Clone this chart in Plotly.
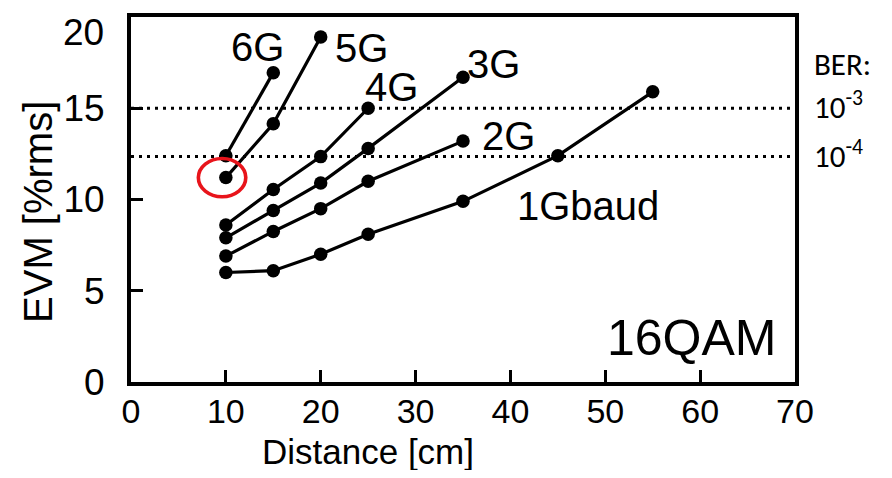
import plotly.graph_objects as go

# ---- data ----
dist_1g = [10, 15, 20, 25, 35, 45, 55]
evm_1g = [6.0, 6.1, 7.0, 8.1, 9.9, 12.4, 15.9]
dist_2g = [10, 15, 20, 25, 35]
evm_2g = [6.9, 8.25, 9.5, 11.0, 13.2]
dist_3g = [10, 15, 20, 25, 35]
evm_3g = [7.9, 9.4, 10.9, 12.8, 16.7]
dist_4g = [10, 15, 20, 25]
evm_4g = [8.6, 10.55, 12.35, 15.0]
dist_5g = [10, 15, 20]
evm_5g = [11.2, 14.15, 18.9]
dist_6g = [10, 15]
evm_6g = [12.4, 16.95]

x_ticks = [0, 10, 20, 30, 40, 50, 60, 70]
y_ticks = [0, 5, 10, 15, 20]

ber_levels = [15.0, 12.35]
ber_labels = ["10<sup>-3</sup>", "10<sup>-4</sup>"]

series = [
    ("1Gbaud", dist_1g, evm_1g),
    ("2G", dist_2g, evm_2g),
    ("3G", dist_3g, evm_3g),
    ("4G", dist_4g, evm_4g),
    ("5G", dist_5g, evm_5g),
    ("6G", dist_6g, evm_6g),
]
label_pos = {
    "6G": (13.3, 18.35),
    "5G": (24.25, 18.3),
    "4G": (27.5, 16.15),
    "3G": (38.2, 17.45),
    "2G": (39.8, 13.5),
    "1Gbaud": (48.2, 9.62),
}

ARIAL = "Arial, Liberation Sans, sans-serif"
CAL = "Carlito, Lato, Open Sans, sans-serif"

fig = go.Figure()
for name, xs, ys in series:
    fig.add_trace(go.Scatter(
        x=xs, y=ys, mode="lines+markers", name=name,
        line=dict(color="black", width=3.2),
        marker=dict(color="black", size=13.5),
        showlegend=False,
    ))

# BER threshold lines
for lvl in ber_levels:
    fig.add_shape(type="line", xref="x", yref="y", x0=0, x1=70, y0=lvl, y1=lvl,
                  line=dict(color="black", width=3, dash="3px,5px"), layer="below")

# red circle around the 5G/10cm point
fig.add_shape(type="circle", xref="x", yref="y", x0=7.1, x1=12.1, y0=10.15, y1=12.25,
              line=dict(color="#e8141b", width=3.6))

annotations = []
for name, (lx, ly) in label_pos.items():
    annotations.append(dict(x=lx, y=ly, xref="x", yref="y", text=name, showarrow=False,
                            xanchor="center", yanchor="middle",
                            font=dict(family=ARIAL, size=40, color="black")))
annotations.append(dict(x=59.1, y=2.42, xref="x", yref="y", text="16QAM", showarrow=False,
                        xanchor="center", yanchor="middle",
                        font=dict(family=ARIAL, size=50, color="black")))
annotations.append(dict(x=1.0256, y=0.854, xref="paper", yref="paper", text="BER:",
                        showarrow=False, xanchor="left", yanchor="middle", yshift=6,
                        font=dict(family=CAL, size=31, color="black")))
for lvl, lab in zip(ber_levels, ber_labels):
    annotations.append(dict(x=1.0256, y=lvl, xref="paper", yref="y", text=lab,
                            showarrow=False, xanchor="left", yanchor="middle", yshift=3,
                            font=dict(family=CAL, size=31, color="black")))
annotations.append(dict(x=0.357, y=-0.19, xref="paper", yref="paper", text="Distance [cm]",
                        showarrow=False, xanchor="center", yanchor="middle",
                        font=dict(family=ARIAL, size=35, color="black")))
annotations.append(dict(x=-0.14, y=0.466, xref="paper", yref="paper", text="EVM [%rms]",
                        showarrow=False, xanchor="center", yanchor="middle", textangle=-90,
                        font=dict(family=ARIAL, size=40, color="black")))
# top y tick label (pushed down inside the page like the reference)
annotations.append(dict(x=-0.037, y=0.9566, xref="paper", yref="paper", text=str(y_ticks[-1]),
                        showarrow=False, xanchor="right", yanchor="middle",
                        font=dict(family=ARIAL, size=37, color="black")))

fig.update_layout(
    width=876, height=462,
    margin=dict(l=123, r=89, t=5, b=88),
    paper_bgcolor="white", plot_bgcolor="white",
    annotations=annotations,
    xaxis=dict(range=[0, 70], tickmode="array", tickvals=x_ticks,
               showgrid=False, zeroline=False, showline=True, linecolor="black", linewidth=4,
               mirror=True, ticks="inside", ticklen=12, tickwidth=3, tickcolor="black",
               ticklabelstandoff=-4,
               tickfont=dict(family=ARIAL, size=34, color="black")),
    yaxis=dict(range=[0, 20], tickmode="array", tickvals=y_ticks[:-1],
               showgrid=False, zeroline=False, showline=True, linecolor="black", linewidth=4,
               mirror=True, ticks="inside", ticklen=12, tickwidth=3, tickcolor="black",
               ticklabelstandoff=15,
               tickfont=dict(family=ARIAL, size=37, color="black")),
)

fig.write_html("out.html")
